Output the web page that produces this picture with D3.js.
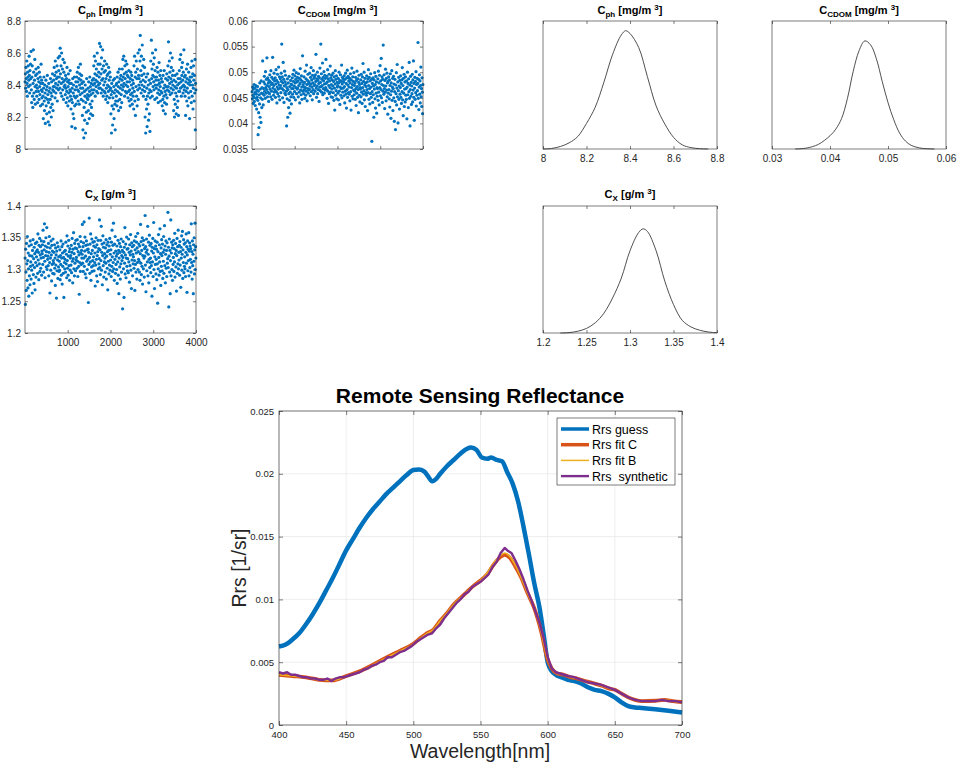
<!DOCTYPE html>
<html>
<head>
<meta charset="utf-8">
<script src="https://cdn.jsdelivr.net/npm/d3@7"></script>
<style>
  body { margin: 0; background: #fff; }
  svg { font-family: "Liberation Sans", Arial, Helvetica, sans-serif; }
</style>
</head>
<body>
<svg id="fig" width="957" height="767"></svg>
<script>
// ---- chain samples (thinned) ----
var chainCph = [
8.42,8.47,8.38,8.51,8.44,8.36,8.55,8.41,8.33,8.48,8.45,8.52,8.39,8.43,8.58,8.46,8.35,8.49,8.40,8.53,
8.44,8.61,8.37,8.29,8.45,8.52,8.33,8.26,8.41,8.62,8.48,8.35,8.31,8.43,8.56,8.39,8.28,8.46,8.50,8.36,
8.40,8.33,8.47,8.38,8.29,8.44,8.51,8.36,8.42,8.31,8.48,8.39,8.34,8.45,8.27,8.41,8.53,8.37,8.43,8.32,
8.36,8.28,8.41,8.33,8.19,8.38,8.45,8.30,8.24,8.40,8.35,8.16,8.32,8.43,8.27,8.37,8.22,8.39,8.46,8.31,
8.34,8.17,8.29,8.41,8.36,8.23,8.15,8.38,8.31,8.44,8.26,8.35,8.20,8.42,8.33,8.28,8.47,8.37,8.24,8.39,
8.43,8.36,8.51,8.39,8.46,8.32,8.55,8.41,8.35,8.48,8.44,8.38,8.52,8.30,8.45,8.40,8.57,8.37,8.49,8.42,
8.45,8.58,8.38,8.63,8.47,8.35,8.52,8.41,8.60,8.33,8.44,8.50,8.37,8.56,8.42,8.31,8.48,8.39,8.54,8.43,
8.40,8.34,8.46,8.38,8.29,8.44,8.36,8.51,8.32,8.42,8.27,8.39,8.47,8.35,8.43,8.30,8.41,8.37,8.49,8.33,
8.36,8.25,8.41,8.31,8.14,8.38,8.29,8.44,8.22,8.35,8.40,8.19,8.33,8.45,8.27,8.37,8.13,8.32,8.42,8.28,
8.39,8.45,8.33,8.48,8.37,8.42,8.30,8.51,8.36,8.44,8.28,8.40,8.47,8.34,8.53,8.38,8.43,8.31,8.46,8.41,
8.35,8.21,8.38,8.12,8.30,8.42,8.07,8.26,8.36,8.18,8.33,8.40,8.10,8.29,8.37,8.23,8.44,8.32,8.16,8.34,
8.31,8.38,8.24,8.42,8.33,8.19,8.36,8.45,8.28,8.39,8.22,8.34,8.41,8.26,8.37,8.30,8.43,8.21,8.35,8.40,
8.44,8.52,8.37,8.58,8.41,8.47,8.33,8.55,8.43,8.39,8.50,8.36,8.46,8.60,8.42,8.35,8.53,8.40,8.48,8.38,
8.45,8.66,8.41,8.53,8.38,8.64,8.47,8.35,8.57,8.43,8.50,8.37,8.62,8.44,8.33,8.52,8.40,8.48,8.36,8.55,
8.42,8.35,8.49,8.31,8.44,8.38,8.53,8.33,8.46,8.40,8.29,8.47,8.36,8.51,8.39,8.43,8.32,8.48,8.37,8.45,
8.38,8.22,8.34,8.10,8.41,8.27,8.36,8.15,8.32,8.43,8.25,8.39,8.19,8.35,8.44,8.28,8.12,8.37,8.30,8.40,
8.33,8.41,8.27,8.45,8.36,8.30,8.48,8.39,8.24,8.42,8.35,8.50,8.31,8.44,8.38,8.26,8.46,8.34,8.40,8.29,
8.43,8.50,8.37,8.56,8.45,8.39,8.58,8.41,8.47,8.33,8.52,8.44,8.36,8.55,8.40,8.48,8.35,8.53,8.42,8.46,
8.39,8.32,8.45,8.36,8.49,8.30,8.42,8.37,8.27,8.44,8.34,8.48,8.31,8.40,8.46,8.35,8.28,8.43,8.38,8.33,
8.41,8.25,8.52,8.36,8.58,8.30,8.45,8.21,8.48,8.39,8.55,8.33,8.44,8.27,8.50,8.37,8.60,8.31,8.46,8.40,
8.44,8.62,8.38,8.55,8.71,8.42,8.49,8.35,8.58,8.46,8.40,8.65,8.37,8.52,8.43,8.33,8.56,8.47,8.39,8.51,
8.36,8.20,8.42,8.10,8.31,8.45,8.25,8.38,8.14,8.33,8.47,8.28,8.40,8.18,8.35,8.43,8.22,8.37,8.11,8.32,
8.41,8.55,8.36,8.68,8.44,8.50,8.33,8.60,8.46,8.39,8.53,8.42,8.37,8.57,8.45,8.31,8.49,8.40,8.62,8.43,
8.38,8.45,8.32,8.51,8.40,8.35,8.48,8.29,8.43,8.37,8.54,8.41,8.34,8.46,8.39,8.30,8.49,8.36,8.44,8.42,
8.35,8.27,8.42,8.31,8.46,8.24,8.38,8.33,8.49,8.29,8.40,8.36,8.22,8.44,8.34,8.39,8.28,8.47,8.32,8.37,
8.43,8.52,8.39,8.67,8.45,8.36,8.55,8.41,8.48,8.34,8.60,8.44,8.38,8.51,8.42,8.35,8.57,8.46,8.40,8.49,
8.37,8.24,8.43,8.31,8.20,8.39,8.46,8.28,8.35,8.42,8.22,8.38,8.33,8.47,8.26,8.40,8.30,8.44,8.21,8.36,
8.41,8.49,8.36,8.56,8.44,8.38,8.59,8.42,8.33,8.51,8.46,8.39,8.54,8.43,8.35,8.48,8.40,8.62,8.37,8.45,
8.39,8.33,8.46,8.21,8.42,8.36,8.50,8.30,8.44,8.38,8.53,8.27,8.41,8.35,8.48,8.32,8.43,8.19,8.40,8.45,
8.42,8.36,8.51,8.29,8.45,8.55,8.33,8.40,8.47,8.25,8.38,8.52,8.43,8.30,8.46,8.35,8.56,8.12,8.41,8.37
];
var chainCdom = [
0.0462,0.0448,0.0471,0.0455,0.0439,0.0467,0.0452,0.0476,0.0443,0.0458,0.0469,0.0435,0.0461,0.0474,0.0449,0.0457,0.0428,0.0465,0.0451,0.0472,
0.0445,0.0378,0.0463,0.0421,0.0392,0.0456,0.0438,0.0479,0.0412,0.0467,0.0450,0.0402,0.0483,0.0459,0.0431,0.0470,0.0447,0.0522,0.0458,0.0436,
0.0468,0.0481,0.0455,0.0492,0.0463,0.0477,0.0449,0.0501,0.0470,0.0459,0.0486,0.0466,0.0528,0.0474,0.0452,0.0489,0.0461,0.0479,0.0443,0.0484,
0.0472,0.0458,0.0495,0.0467,0.0481,0.0452,0.0503,0.0476,0.0463,0.0490,0.0447,0.0478,0.0529,0.0469,0.0486,0.0455,0.0474,0.0498,0.0461,0.0483,
0.0466,0.0489,0.0451,0.0477,0.0505,0.0462,0.0484,0.0440,0.0471,0.0496,0.0458,0.0480,0.0467,0.0510,0.0453,0.0475,0.0491,0.0446,0.0469,0.0487,
0.0474,0.0460,0.0498,0.0482,0.0555,0.0468,0.0491,0.0450,0.0479,0.0519,0.0465,0.0486,0.0441,0.0473,0.0502,0.0459,0.0481,0.0494,0.0456,0.0476,
0.0463,0.0395,0.0470,0.0448,0.0487,0.0412,0.0466,0.0479,0.0431,0.0458,0.0492,0.0445,0.0472,0.0420,0.0461,0.0484,0.0452,0.0477,0.0438,0.0468,
0.0475,0.0489,0.0457,0.0496,0.0468,0.0482,0.0451,0.0504,0.0473,0.0462,0.0493,0.0479,0.0446,0.0486,0.0470,0.0499,0.0458,0.0481,0.0467,0.0490,
0.0469,0.0483,0.0452,0.0497,0.0474,0.0461,0.0488,0.0440,0.0478,0.0507,0.0465,0.0485,0.0456,0.0493,0.0471,0.0447,0.0482,0.0532,0.0463,0.0476,
0.0472,0.0458,0.0491,0.0466,0.0480,0.0449,0.0502,0.0470,0.0455,0.0487,0.0463,0.0514,0.0476,0.0444,0.0484,0.0468,0.0496,0.0459,0.0478,0.0465,
0.0481,0.0467,0.0498,0.0473,0.0454,0.0490,0.0477,0.0509,0.0462,0.0485,0.0471,0.0446,0.0494,0.0479,0.0466,0.0503,0.0458,0.0488,0.0474,0.0491,
0.0476,0.0463,0.0495,0.0482,0.0535,0.0469,0.0451,0.0487,0.0473,0.0500,0.0458,0.0484,0.0466,0.0492,0.0478,0.0443,0.0489,0.0471,0.0508,0.0464,
0.0480,0.0555,0.0472,0.0497,0.0461,0.0486,0.0474,0.0518,0.0456,0.0490,0.0468,0.0483,0.0501,0.0459,0.0477,0.0494,0.0465,0.0488,0.0470,0.0525,
0.0478,0.0466,0.0492,0.0449,0.0481,0.0505,0.0463,0.0487,0.0439,0.0474,0.0496,0.0458,0.0483,0.0470,0.0512,0.0461,0.0489,0.0452,0.0476,0.0494,
0.0467,0.0485,0.0451,0.0473,0.0498,0.0460,0.0482,0.0445,0.0491,0.0469,0.0426,0.0477,0.0503,0.0455,0.0486,0.0464,0.0493,0.0448,0.0480,0.0471,
0.0474,0.0459,0.0488,0.0446,0.0479,0.0500,0.0463,0.0484,0.0437,0.0471,0.0495,0.0455,0.0482,0.0468,0.0514,0.0450,0.0477,0.0490,0.0461,0.0486,
0.0469,0.0481,0.0454,0.0493,0.0472,0.0440,0.0486,0.0463,0.0498,0.0457,0.0478,0.0430,0.0489,0.0466,0.0504,0.0451,0.0475,0.0492,0.0460,0.0483,
0.0471,0.0457,0.0488,0.0444,0.0479,0.0497,0.0462,0.0426,0.0485,0.0470,0.0508,0.0453,0.0476,0.0491,0.0448,0.0482,0.0465,0.0499,0.0456,0.0474,
0.0463,0.0479,0.0447,0.0490,0.0468,0.0435,0.0484,0.0459,0.0502,0.0472,0.0451,0.0487,0.0466,0.0421,0.0480,0.0494,0.0455,0.0476,0.0442,0.0470,
0.0467,0.0485,0.0452,0.0496,0.0461,0.0478,0.0439,0.0491,0.0470,0.0517,0.0457,0.0482,0.0464,0.0500,0.0446,0.0475,0.0488,0.0433,0.0479,0.0460,
0.0472,0.0455,0.0493,0.0466,0.0481,0.0425,0.0487,0.0460,0.0505,0.0474,0.0447,0.0490,0.0468,0.0438,0.0483,0.0458,0.0497,0.0471,0.0451,0.0486,
0.0365,0.0462,0.0478,0.0441,0.0489,0.0456,0.0473,0.0412,0.0485,0.0467,0.0499,0.0448,0.0476,0.0430,0.0492,0.0459,0.0481,0.0420,0.0470,0.0453,
0.0468,0.0487,0.0445,0.0502,0.0461,0.0479,0.0436,0.0494,0.0470,0.0513,0.0454,0.0483,0.0466,0.0527,0.0450,0.0476,0.0491,0.0441,0.0486,0.0463,
0.0553,0.0474,0.0457,0.0495,0.0468,0.0429,0.0484,0.0461,0.0506,0.0473,0.0444,0.0488,0.0465,0.0498,0.0452,0.0479,0.0418,0.0482,0.0459,0.0491,
0.0466,0.0448,0.0485,0.0432,0.0474,0.0497,0.0456,0.0410,0.0479,0.0463,0.0503,0.0445,0.0471,0.0488,0.0425,0.0468,0.0492,0.0450,0.0477,0.0404,
0.0462,0.0486,0.0443,0.0388,0.0475,0.0458,0.0499,0.0436,0.0469,0.0515,0.0452,0.0481,0.0401,0.0464,0.0490,0.0447,0.0473,0.0428,0.0484,0.0457,
0.0470,0.0493,0.0451,0.0478,0.0439,0.0485,0.0462,0.0509,0.0446,0.0474,0.0415,0.0488,0.0459,0.0496,0.0433,0.0467,0.0481,0.0442,0.0491,0.0455,
0.0468,0.0447,0.0483,0.0409,0.0471,0.0500,0.0456,0.0478,0.0431,0.0487,0.0462,0.0519,0.0449,0.0475,0.0395,0.0466,0.0492,0.0453,0.0480,0.0437,
0.0473,0.0458,0.0496,0.0442,0.0485,0.0465,0.0522,0.0451,0.0478,0.0406,0.0469,0.0490,0.0447,0.0482,0.0460,0.0501,0.0434,0.0476,0.0455,0.0488,
0.0464,0.0478,0.0558,0.0449,0.0486,0.0427,0.0471,0.0495,0.0457,0.0483,0.0440,0.0474,0.0510,0.0452,0.0468,0.0433,0.0489,0.0461,0.0419,0.0476
];
var chainCx = [
1.318,1.245,1.332,1.296,1.267,1.341,1.309,1.283,1.352,1.314,1.271,1.326,1.301,1.258,1.337,1.290,1.322,1.276,1.345,1.305,
1.312,1.285,1.339,1.299,1.321,1.263,1.330,1.307,1.347,1.292,1.317,1.278,1.335,1.303,1.325,1.268,1.341,1.311,1.288,1.328,
1.320,1.343,1.306,1.331,1.294,1.356,1.315,1.327,1.284,1.338,1.309,1.349,1.297,1.323,1.336,1.302,1.318,1.345,1.291,1.329,
1.325,1.339,1.308,1.362,1.319,1.296,1.344,1.331,1.372,1.313,1.287,1.337,1.322,1.350,1.304,1.328,1.366,1.300,1.335,1.316,
1.321,1.306,1.341,1.290,1.327,1.352,1.311,1.263,1.334,1.318,1.299,1.345,1.323,1.282,1.338,1.308,1.329,1.294,1.348,1.314,
1.310,1.327,1.293,1.339,1.302,1.318,1.275,1.334,1.307,1.323,1.255,1.329,1.298,1.342,1.315,1.286,1.336,1.304,1.320,1.297,
1.313,1.299,1.331,1.284,1.322,1.308,1.345,1.291,1.318,1.336,1.277,1.326,1.305,1.340,1.294,1.319,1.256,1.328,1.311,1.301,
1.316,1.330,1.296,1.343,1.309,1.324,1.287,1.353,1.314,1.302,1.337,1.291,1.321,1.346,1.306,1.328,1.283,1.333,1.299,1.318,
1.322,1.307,1.338,1.295,1.327,1.349,1.313,1.279,1.332,1.317,1.358,1.301,1.325,1.290,1.341,1.310,1.334,1.298,1.346,1.315,
1.319,1.333,1.302,1.347,1.313,1.289,1.328,1.340,1.305,1.323,1.261,1.336,1.311,1.352,1.297,1.326,1.344,1.308,1.330,1.318,
1.324,1.371,1.310,1.336,1.297,1.342,1.318,1.375,1.305,1.329,1.351,1.293,1.321,1.338,1.287,1.345,1.313,1.331,1.300,1.339,
1.316,1.332,1.248,1.327,1.308,1.381,1.319,1.294,1.340,1.312,1.356,1.283,1.325,1.304,1.348,1.297,1.330,1.314,1.343,1.306,
1.320,1.337,1.298,1.344,1.311,1.326,1.274,1.335,1.307,1.350,1.316,1.290,1.339,1.322,1.281,1.328,1.346,1.301,1.333,1.309,
1.317,1.378,1.303,1.331,1.292,1.346,1.314,1.368,1.299,1.327,1.340,1.276,1.322,1.353,1.306,1.335,1.288,1.342,1.312,1.325,
1.318,1.296,1.334,1.310,1.347,1.285,1.321,1.339,1.302,1.328,1.268,1.343,1.313,1.330,1.293,1.337,1.307,1.349,1.299,1.324,
1.315,1.331,1.289,1.343,1.305,1.362,1.320,1.297,1.338,1.311,1.373,1.301,1.326,1.283,1.340,1.316,1.352,1.294,1.329,1.308,
1.321,1.300,1.337,1.278,1.325,1.312,1.346,1.291,1.330,1.262,1.318,1.341,1.304,1.327,1.285,1.336,1.309,1.348,1.296,1.322,
1.314,1.330,1.238,1.319,1.344,1.301,1.327,1.256,1.335,1.310,1.366,1.293,1.323,1.340,1.287,1.318,1.351,1.305,1.332,1.298,
1.317,1.333,1.295,1.348,1.312,1.327,1.280,1.339,1.306,1.323,1.355,1.299,1.329,1.270,1.342,1.315,1.336,1.290,1.324,1.309,
1.320,1.338,1.302,1.345,1.314,1.267,1.331,1.308,1.352,1.296,1.326,1.343,1.285,1.334,1.311,1.357,1.300,1.328,1.316,1.340,
1.313,1.296,1.337,1.283,1.325,1.371,1.310,1.344,1.292,1.330,1.305,1.350,1.277,1.322,1.339,1.301,1.346,1.318,1.288,1.333,
1.321,1.385,1.307,1.336,1.265,1.327,1.348,1.298,1.331,1.312,1.368,1.290,1.324,1.343,1.279,1.316,1.354,1.303,1.338,1.311,
1.318,1.295,1.341,1.306,1.329,1.258,1.335,1.312,1.349,1.289,1.326,1.374,1.300,1.333,1.270,1.320,1.345,1.308,1.337,1.293,
1.316,1.332,1.284,1.343,1.309,1.247,1.328,1.301,1.355,1.319,1.291,1.339,1.312,1.364,1.297,1.325,1.275,1.334,1.305,1.347,
1.322,1.298,1.340,1.286,1.327,1.313,1.352,1.294,1.331,1.369,1.306,1.337,1.279,1.324,1.345,1.302,1.330,1.289,1.342,1.310,
1.317,1.390,1.303,1.335,1.241,1.321,1.348,1.296,1.330,1.262,1.314,1.378,1.290,1.326,1.343,1.300,1.334,1.283,1.339,1.308,
1.319,1.346,1.297,1.333,1.312,1.357,1.288,1.325,1.341,1.304,1.330,1.266,1.322,1.349,1.294,1.336,1.309,1.362,1.301,1.327,
1.315,1.338,1.291,1.344,1.307,1.328,1.272,1.335,1.318,1.353,1.299,1.324,1.360,1.286,1.331,1.311,1.347,1.295,1.340,1.305,
1.320,1.301,1.342,1.289,1.327,1.356,1.310,1.336,1.264,1.323,1.345,1.298,1.332,1.314,1.358,1.290,1.329,1.342,1.303,1.337,
1.316,1.333,1.296,1.372,1.311,1.328,1.285,1.345,1.306,1.324,1.262,1.339,1.313,1.350,1.293,1.331,1.373,1.300,1.336,1.318
];

// ---- posterior densities ----
var densCphX = [8.00,8.04,8.08,8.12,8.16,8.20,8.24,8.28,8.32,8.36,8.38,8.40,8.44,8.48,8.52,8.56,8.60,8.64,8.68,8.72,8.76];
var densCphY = [0,0.02,0.09,0.22,0.45,0.92,1.50,2.40,3.40,4.10,4.25,4.15,3.65,2.60,1.55,0.90,0.42,0.15,0.05,0.012,0];
var densCdomX = [0.034,0.036,0.038,0.040,0.041,0.042,0.043,0.044,0.045,0.046,0.047,0.048,0.049,0.050,0.051,0.052,0.053,0.054,0.055,0.056,0.058];
var densCdomY = [0,1.5,7,20,30,46,76,117,148,163,157,136,102,70,44,24,12,5.5,2.5,0.9,0];
var densCxX = [1.22,1.23,1.24,1.25,1.26,1.27,1.28,1.29,1.30,1.31,1.315,1.32,1.33,1.34,1.35,1.36,1.37,1.38,1.39,1.40];
var densCxY = [0,0.08,0.35,0.9,2.0,3.9,6.9,10.8,16.2,19.8,20.5,20.0,16.2,10.2,5.6,2.5,1.2,0.55,0.2,0.05];

// ---- Remote sensing reflectance spectra ----
var guessWl = [400,405,410,415,420,425,430,435,440,445,450,455,460,465,470,475,480,485,490,495,500,504,508,511,514,517,520,525,530,535,540,543,547,551,555,558,562,566,570,574,578,582,586,590,594,597,600,603,606,610,615,620,625,630,635,640,645,650,655,660,665,670,680,690,700];
var rrsGuess = [0.00625,0.0064,0.0068,0.0073,0.0080,0.0088,0.0097,0.0107,0.0117,0.0128,0.0139,0.0148,0.0157,0.0165,0.0172,0.0178,0.0184,0.0189,0.0194,0.0199,0.0203,0.02035,0.0202,0.0198,0.0194,0.0196,0.0200,0.0206,0.0211,0.0216,0.0220,0.0221,0.0219,0.0213,0.0212,0.0213,0.0211,0.0210,0.0201,0.0192,0.0178,0.0158,0.0136,0.0113,0.0093,0.0072,0.0050,0.0043,0.0040,0.0038,0.0036,0.0035,0.0033,0.0030,0.0028,0.0027,0.0025,0.0022,0.0018,0.0015,0.0014,0.00135,0.00125,0.00113,0.0010];

var fitWl = [400,410,420,430,440,450,460,470,480,490,500,505,510,515,520,525,530,535,540,545,550,555,560,565,568,572,576,580,585,590,595,600,603,607,612,617,622,629,635,641,646,650,655,660,665,670,680,687,693,700];
var rrsFitC = [0.0040,0.0039,0.0038,0.0036,0.00355,0.0039,0.00427,0.0048,0.00538,0.0059,0.00647,0.0069,0.0073,0.0076,0.0083,0.0089,0.0096,0.0101,0.0106,0.0111,0.0115,0.0120,0.0128,0.0134,0.01355,0.0133,0.0126,0.0118,0.0105,0.0093,0.0075,0.0052,0.0045,0.0041,0.0040,0.0038,0.0037,0.00347,0.0033,0.0031,0.0029,0.0028,0.0025,0.0022,0.0020,0.0019,0.00193,0.0020,0.0019,0.00183];
var rrsFitB = [0.0040,0.0039,0.0038,0.0036,0.00356,0.0039,0.00425,0.00478,0.00535,0.00588,0.00645,0.00688,0.00728,0.0076,0.0083,0.0089,0.0096,0.0101,0.0106,0.0111,0.0115,0.0121,0.0129,0.0135,0.0137,0.0134,0.0127,0.0118,0.0105,0.0093,0.0075,0.0052,0.0045,0.0041,0.0040,0.0038,0.0037,0.00345,0.0033,0.0031,0.0029,0.0028,0.0025,0.0022,0.0020,0.0019,0.00192,0.0020,0.0019,0.00182];

var synWl = [400,403,406,409,412,415,418,421,424,427,430,433,436,439,442,445,448,451,454,457,460,463,466,469,472,475,478,481,484,487,490,493,496,499,502,505,508,511,514,517,520,523,526,529,532,535,538,541,544,547,550,553,556,559,562,565,568,570,573,576,579,582,585,588,591,594,597,600,603,606,609,612,615,620,625,630,635,640,645,650,655,660,665,670,675,680,685,690,695,700];
var rrsSynthetic = [0.0042,0.0041,0.0042,0.0040,0.0040,0.0039,0.0038,0.0038,0.0037,0.0037,0.0036,0.0036,0.0037,0.0035,0.0037,0.0038,0.0038,0.0039,0.0040,0.0041,0.0042,0.0044,0.0045,0.0047,0.0048,0.0050,0.0051,0.0054,0.0054,0.0056,0.0058,0.0059,0.0061,0.0063,0.0066,0.0068,0.0070,0.0072,0.0073,0.0077,0.0080,0.0085,0.0089,0.0093,0.0097,0.0100,0.0104,0.0106,0.0110,0.0112,0.0114,0.0117,0.0120,0.0126,0.0130,0.0137,0.0141,0.0139,0.0137,0.0131,0.0124,0.0116,0.0107,0.0099,0.0090,0.0081,0.0069,0.0054,0.0045,0.0042,0.0041,0.0040,0.0039,0.0038,0.0036,0.0034,0.0033,0.0032,0.0030,0.0028,0.0025,0.0022,0.0020,0.0019,0.0019,0.0019,0.0020,0.0019,0.0019,0.0018];

var legendLabels = ["Rrs guess", "Rrs fit C", "Rrs fit B", "Rrs  synthetic"];
var seriesColors = ["#0072BD", "#D95319", "#EDB120", "#7E2F8E"];

// ---- tick values ----
var iterTicks = [1000, 2000, 3000, 4000];
var cphTicks = [8, 8.2, 8.4, 8.6, 8.8];
var cdomScatterTicks = [0.035, 0.04, 0.045, 0.05, 0.055, 0.06];
var cdomDensTicks = [0.03, 0.04, 0.05, 0.06];
var cxTicks = [1.2, 1.25, 1.3, 1.35, 1.4];
var wlTicks = [400, 450, 500, 550, 600, 650, 700];
var rrsTicks = [0, 0.005, 0.01, 0.015, 0.02, 0.025];

var svg = d3.select("#fig");
var axColor = "#262626";
var fmt = d3.format("~g");

// draw one MATLAB-like axes box, returns scales
function makeAxes(o) {
    var x = d3.scaleLinear().domain(o.xd).range([o.left, o.right]);
    var y = d3.scaleLinear().domain(o.yd).range([o.bottom, o.top]);
    var g = svg.append("g");

    if (o.grid) {
        g.selectAll(".gx").data(o.xt).enter().append("line")
            .attr("x1", d => x(d)).attr("x2", d => x(d))
            .attr("y1", o.top).attr("y2", o.bottom)
            .attr("stroke", "#e6e6e6").attr("stroke-width", 0.7);
        g.selectAll(".gy").data(o.yt).enter().append("line")
            .attr("x1", o.left).attr("x2", o.right)
            .attr("y1", d => y(d)).attr("y2", d => y(d))
            .attr("stroke", "#e6e6e6").attr("stroke-width", 0.7);
    }

    var fs = o.fs || 10;
    var tl = o.tickLen || 3;

    // bottom ticks (inward) + labels
    var xb = g.append("g").attr("transform", "translate(0," + o.bottom + ")")
        .call(d3.axisBottom(x).tickValues(o.xt).tickSize(-tl).tickPadding(o.xpad || 5)
            .tickFormat(o.xlabels ? fmt : ""));
    // top mirror
    var xt = g.append("g").attr("transform", "translate(0," + o.top + ")")
        .call(d3.axisTop(x).tickValues(o.xt).tickSize(-tl).tickFormat(""));
    var axs = [xb, xt];
    if (o.yt) {
        var yl = g.append("g").attr("transform", "translate(" + o.left + ",0)")
            .call(d3.axisLeft(y).tickValues(o.yt).tickSize(-tl).tickPadding(o.ypad || 4)
                .tickFormat(o.ylabels ? fmt : ""));
        var yr = g.append("g").attr("transform", "translate(" + o.right + ",0)")
            .call(d3.axisRight(y).tickValues(o.yt).tickSize(-tl).tickFormat(""));
        axs.push(yl, yr);
    }
    axs.forEach(function (a) {
        a.select(".domain").remove();
        a.selectAll("line").attr("stroke", axColor).attr("stroke-width", 0.6);
        a.selectAll("text").attr("fill", axColor).attr("font-size", fs)
            .attr("font-family", "Liberation Sans, Arial, sans-serif");
    });

    var box = svg.append("rect")
        .attr("x", o.left).attr("y", o.top)
        .attr("width", o.right - o.left).attr("height", o.bottom - o.top)
        .attr("fill", "none").attr("stroke", axColor).attr("stroke-width", 0.6);

    return { x: x, y: y, g: g, box: box };
}

// subplot title like  C_ph [mg/m^3]
function subTitle(cx, base, sub, unit) {
    var t = svg.append("text").attr("x", cx).attr("y", base)
        .attr("text-anchor", "middle").attr("font-weight", "bold")
        .attr("font-size", 11).attr("fill", "#000");
    t.append("tspan").text("C");
    t.append("tspan").attr("font-size", 8).attr("dy", 3).text(sub);
    t.append("tspan").attr("dy", -3).text(" [" + unit + " ");
    t.append("tspan").attr("font-size", 8).attr("dy", -4).text("3");
    t.append("tspan").attr("dy", 4).text("]");
}

function scatter(ax, values) {
    var n = values.length;
    ax.g.selectAll(".pt").data(values).enter().append("circle")
        .attr("cx", (d, i) => ax.x((i + 0.5) * 4000 / n))
        .attr("cy", d => ax.y(d))
        .attr("r", 1.6)
        .attr("fill", "#0072BD");
}

function density(ax, xs, ys) {
    var line = d3.line().x(d => ax.x(d[0])).y(d => ax.y(Math.max(0, d[1])))
        .curve(d3.curveCatmullRom.alpha(0.5));
    ax.g.append("path").datum(d3.zip(xs, ys)).attr("d", line)
        .attr("fill", "none").attr("stroke", "#3c3c3c").attr("stroke-width", 0.9);
}

// ---- scatter panels ----
var a1 = makeAxes({ left: 25, right: 196, top: 21, bottom: 149, xd: [1, 4000], yd: [8, 8.8],
    xt: iterTicks, yt: cphTicks, ylabels: true });
scatter(a1, chainCph);
subTitle(110.5, 14, "ph", "mg/m");

var a2 = makeAxes({ left: 252, right: 423, top: 21, bottom: 149, xd: [1, 4000], yd: [0.035, 0.06],
    xt: iterTicks, yt: cdomScatterTicks, ylabels: true });
scatter(a2, chainCdom);
subTitle(337.5, 14, "CDOM", "mg/m");

var a3 = makeAxes({ left: 25, right: 196, top: 206, bottom: 333, xd: [1, 4000], yd: [1.2, 1.4],
    xt: iterTicks, yt: cxTicks, ylabels: true, xlabels: true, xpad: 6 });
scatter(a3, chainCx);
subTitle(110.5, 198, "X", "g/m");

// ---- density panels ----
var a4 = makeAxes({ left: 543, right: 717, top: 21, bottom: 149, xd: [8, 8.8], yd: [0, 4.6],
    xt: cphTicks, xlabels: true, xpad: 6 });
density(a4, densCphX, densCphY);
subTitle(630, 14, "ph", "mg/m");

var a5 = makeAxes({ left: 772, right: 946, top: 21, bottom: 149, xd: [0.03, 0.06], yd: [0, 193],
    xt: cdomDensTicks, xlabels: true, xpad: 6 });
density(a5, densCdomX, densCdomY);
subTitle(859, 14, "CDOM", "mg/m");

var a6 = makeAxes({ left: 543, right: 717, top: 206, bottom: 333, xd: [1.2, 1.4], yd: [0, 25],
    xt: cxTicks, xlabels: true, xpad: 6 });
density(a6, densCxX, densCxY);
subTitle(630, 198, "X", "g/m");

// ---- Remote Sensing Reflectance ----
var am = makeAxes({ left: 279, right: 682, top: 411, bottom: 725, xd: [400, 700], yd: [0, 0.025],
    xt: wlTicks, yt: rrsTicks, xlabels: true, ylabels: true, grid: true, fs: 9.5,
    xpad: 6, ypad: 5, tickLen: 4 });

var series = [
    { wl: guessWl, v: rrsGuess, w: 4.5, curve: d3.curveMonotoneX },
    { wl: fitWl, v: rrsFitC, w: 3.8, curve: d3.curveMonotoneX },
    { wl: fitWl, v: rrsFitB, w: 1.5, curve: d3.curveMonotoneX },
    { wl: synWl, v: rrsSynthetic, w: 2.4, curve: d3.curveLinear }
];
series.forEach(function (s, k) {
    var line = d3.line().x(d => am.x(d[0])).y(d => am.y(d[1])).curve(s.curve);
    am.g.append("path").datum(d3.zip(s.wl, s.v)).attr("d", line)
        .attr("fill", "none").attr("stroke", seriesColors[k])
        .attr("stroke-width", s.w).attr("stroke-linejoin", "round");
});

svg.append("text").attr("x", 480).attr("y", 403).attr("text-anchor", "middle")
    .attr("font-weight", "bold").attr("font-size", 21).attr("fill", "#000")
    .text("Remote Sensing Reflectance");
svg.append("text").attr("transform", "translate(246,568) rotate(-90)")
    .attr("text-anchor", "middle").attr("font-size", 19.5).attr("fill", axColor)
    .text("Rrs [1/sr]");
svg.append("text").attr("x", 480).attr("y", 758).attr("text-anchor", "middle")
    .attr("font-size", 19.5).attr("fill", axColor)
    .text("Wavelength[nm]");

// legend
var lg = svg.append("g").attr("transform", "translate(557,418)");
lg.append("rect").attr("width", 118).attr("height", 67)
    .attr("fill", "#fff").attr("stroke", axColor).attr("stroke-width", 0.6);
var items = lg.selectAll(".item").data(legendLabels).enter().append("g")
    .attr("transform", (d, i) => "translate(0," + (11 + i * 15.7) + ")");
items.append("line").attr("x1", 4).attr("x2", 32).attr("y1", 0).attr("y2", 0)
    .attr("stroke", (d, i) => seriesColors[i])
    .attr("stroke-width", (d, i) => series[i].w > 2 ? Math.min(series[i].w, 3.5) : series[i].w);
items.append("text").attr("x", 35).attr("y", 4.5).attr("font-size", 12.5)
    .attr("fill", "#000").style("white-space", "pre").text(d => d);
</script>
</body>
</html>
